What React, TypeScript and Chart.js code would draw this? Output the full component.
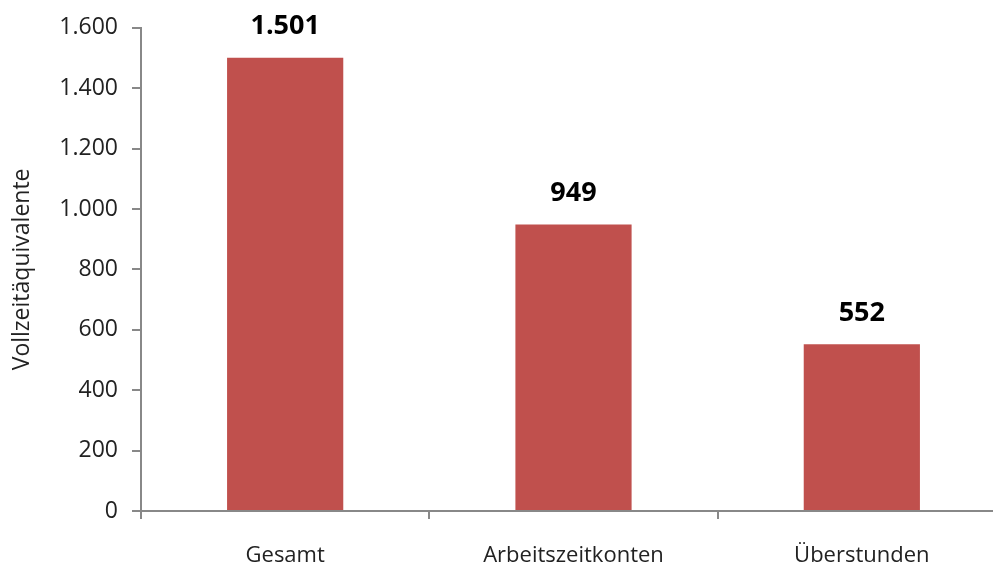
import React, { useEffect, useRef } from "react";
import { Chart, registerables } from "chart.js";

Chart.register(...registerables);

const categories = ["Gesamt", "Arbeitszeitkonten", "Überstunden"];
const values = [1501, 949, 552];
const yTicks = [0, 200, 400, 600, 800, 1000, 1200, 1400, 1600];
const yTitle = "Vollzeitäquivalente";

const fmt = (v: number) => {
  const s = Math.round(v).toString();
  return s.replace(/\B(?=(\d{3})+(?!\d))/g, ".");
};

const FONT = "'Open Sans', 'DejaVu Sans', sans-serif";

const labelPlugin = {
  id: "barLabels",
  afterDatasetsDraw(chart: any) {
    const { ctx } = chart;
    const meta = chart.getDatasetMeta(0);
    ctx.save();
    ctx.font = `bold 27px ${FONT}`;
    ctx.fillStyle = "#000";
    ctx.textAlign = "center";
    ctx.textBaseline = "middle";
    meta.data.forEach((bar: any, i: number) => {
      ctx.fillText(fmt(values[i]), bar.x, bar.y - 31);
    });
    ctx.restore();
  },
};

export default function App() {
  const ref = useRef<HTMLCanvasElement | null>(null);
  useEffect(() => {
    if (!ref.current) return;
    const chart = new Chart(ref.current, {
      type: "bar",
      data: {
        labels: categories,
        datasets: [
          {
            data: values,
            backgroundColor: "#C0504D",
            borderWidth: 0,
            barPercentage: 0.403,
            categoryPercentage: 1,
          },
        ],
      },
      options: {
        animation: false,
        responsive: false,
        maintainAspectRatio: false,
        devicePixelRatio: 1,
        layout: { padding: { left: 0, right: 10, top: 25, bottom: 0 } },
        plugins: {
          legend: { display: false },
          tooltip: { enabled: false },
        },
        scales: {
          x: {
            offset: true,
            grid: {
              offset: true,
              drawOnChartArea: false,
              drawTicks: true,
              tickLength: 8,
              color: "#888",
              lineWidth: 2,
            },
            border: { color: "#888", width: 2 },
            ticks: {
              color: "#222",
              font: { family: FONT, size: 22 },
              padding: 24,
            },
            afterFit(scale: any) {
              scale.height = 57;
            },
          },
          y: {
            min: 0,
            max: 1600,
            afterBuildTicks(scale: any) {
              scale.ticks = yTicks.map((v) => ({ value: v }));
            },
            grid: {
              drawOnChartArea: false,
              drawTicks: true,
              tickLength: 9,
              color: "#888",
              lineWidth: 2,
            },
            border: { color: "#888", width: 2 },
            ticks: {
              color: "#222",
              font: { family: FONT, size: 23 },
              padding: 14,
              callback: (v: any) => fmt(Number(v)),
            },
            title: {
              display: true,
              text: yTitle,
              color: "#222",
              font: { family: FONT, size: 23 },
              padding: { top: 9, bottom: 0 },
            },
            afterFit(scale: any) {
              scale.width = 141;
            },
          },
        },
      },
      plugins: [labelPlugin],
    });
    return () => chart.destroy();
  }, []);
  return (
    <div
      style={{
        position: "fixed",
        left: 0,
        top: 0,
        width: 993,
        height: 568,
        overflow: "hidden",
        background: "#fff",
      }}
    >
      <canvas ref={ref} width={1016} height={568} style={{ display: "block" }} />
    </div>
  );
}
